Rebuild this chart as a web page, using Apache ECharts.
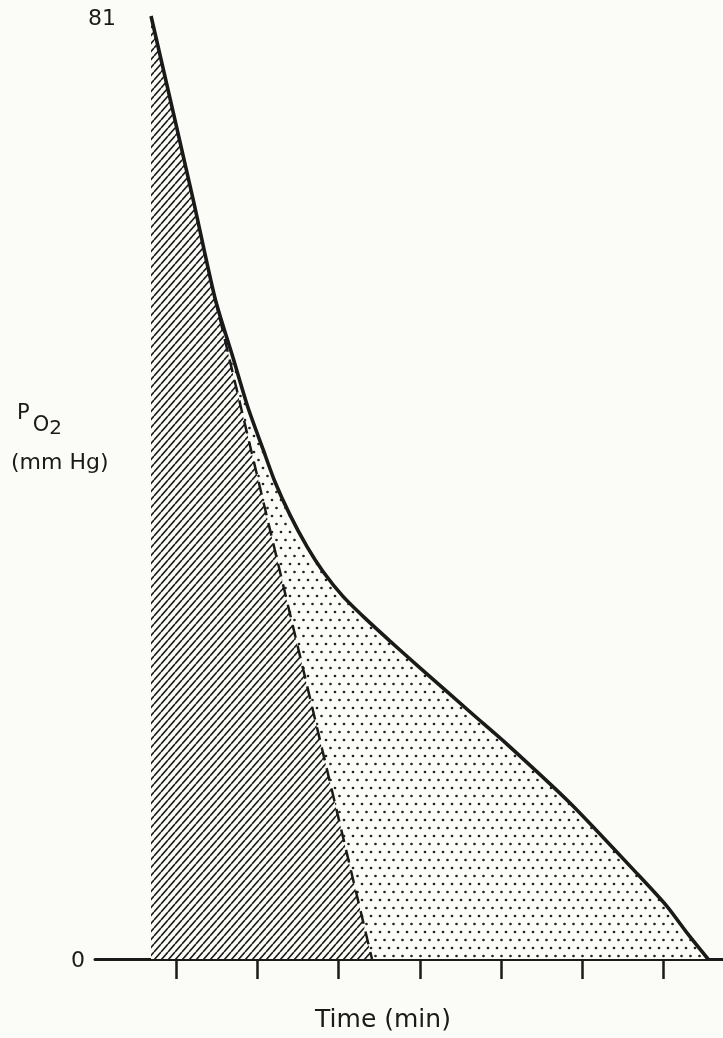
<!DOCTYPE html>
<html>
<head>
<meta charset="utf-8">
<script src="https://cdn.jsdelivr.net/npm/echarts@6/dist/echarts.min.js"></script>
<style>
html,body{margin:0;padding:0;background:#fbfbf7;}
#c{width:723px;height:1038px;}
</style>
</head>
<body>
<div id="c"></div>
<script>
// ---- data ----
const timeMin = [0.690, 1.207, 1.478, 1.700, 1.884, 2.069, 2.217, 2.401, 2.611, 2.808, 3.054, 3.325, 3.633, 4.002, 4.655, 5.049, 5.850, 6.687, 7.044, 7.303, 7.549];
const po2Values = [81.0, 65.30, 56.76, 51.64, 47.37, 43.79, 40.97, 38.15, 35.42, 33.29, 31.15, 29.28, 27.31, 25.01, 21.00, 18.61, 13.40, 7.25, 4.52, 2.13, 0];
const splitCount = 3;               // curve points shared by the hatched region
const dashTime = [1.478, 3.411];
const dashPo2 = [56.76, 0];
const xTickValues = [1, 2, 3, 4, 5, 6, 7];
const yTickValues = [0, 81];
const xAxisName = 'Time (min)';
const yNameLine2 = '(mm Hg)';

const BG = '#fbfbf7';
const INK = '#1a1a1a';

function hatchTile() {
  const c = document.createElement('canvas');
  c.width = 7; c.height = 8;
  const g = c.getContext('2d');
  g.fillStyle = BG; g.fillRect(0, 0, 7, 8);
  g.strokeStyle = INK; g.lineWidth = 1.6;
  g.beginPath();
  for (const k of [-1, 0, 1]) { g.moveTo(k * 7, 8); g.lineTo(k * 7 + 7, 0); }
  g.stroke();
  return c;
}
function dotTile() {
  const c = document.createElement('canvas');
  c.width = 9; c.height = 16;
  const g = c.getContext('2d');
  g.fillStyle = BG; g.fillRect(0, 0, 9, 16);
  g.fillStyle = '#222';
  [[2, 4], [6.5, 12]].forEach(p => { g.beginPath(); g.arc(p[0], p[1], 1.35, 0, Math.PI * 2); g.fill(); });
  return c;
}

const curve = timeMin.map((t, i) => [t, po2Values[i]]);
const hatchData = curve.slice(0, splitCount).concat(dashTime.slice(1).map((t, i) => [t, dashPo2[i + 1]]));
const dashData = dashTime.map((t, i) => [t, dashPo2[i]]);

const chart = echarts.init(document.getElementById('c'), null, {renderer: 'canvas'});
const FONT = 'DejaVu Sans';
const SMOOTH = 0.25;
chart.setOption({
  backgroundColor: BG,
  animation: false,
  title: [{
    text: '{p|P}{o|O}{s|2}',
    left: 8, top: 398,
    textStyle: {
      rich: {
        p: {fontFamily: FONT, fontSize: 21, fontWeight: 'normal', color: INK, verticalAlign: 'top', lineHeight: 20, padding: [0, 0, 0, 4]},
        o: {fontFamily: FONT, fontSize: 21, fontWeight: 'normal', color: INK, verticalAlign: 'top', lineHeight: 20, padding: [12, 0, 0, 3]},
        s: {fontFamily: FONT, fontSize: 20, fontWeight: 'normal', color: INK, verticalAlign: 'top', lineHeight: 20, padding: [16, 0, 0, 0]}
      }
    }
  }, {
    text: yNameLine2,
    left: 6, top: 447,
    textStyle: {fontFamily: FONT, fontSize: 22, fontWeight: 'normal', color: INK}
  }],
  grid: {left: 95, right: 0, top: 16, bottom: 73},
  xAxis: {
    type: 'value', min: 0, max: 7.734, interval: 1,
    axisLine: {show: true, lineStyle: {color: INK, width: 3}},
    axisTick: {show: true, customValues: xTickValues, length: 20, inside: false, lineStyle: {color: INK, width: 2.5}},
    axisLabel: {show: false},
    splitLine: {show: false},
    name: xAxisName, nameLocation: 'middle', nameGap: 49,
    nameTextStyle: {fontFamily: FONT, fontSize: 25, color: INK, padding: [0, 52, 0, 0]}
  },
  yAxis: {
    type: 'value', min: 0, max: 81,
    axisLine: {show: false}, axisTick: {show: false}, splitLine: {show: false},
    axisLabel: {
      customValues: yTickValues, showMaxLabel: true, showMinLabel: true,
      align: 'left', margin: 24,
      formatter: v => v === 81 ? '{a|' + v + '}' : '{b|' + v + '}',
      rich: {
        a: {fontFamily: FONT, fontSize: 22, color: INK, padding: [6, 0, 0, 17]},
        b: {fontFamily: FONT, fontSize: 22, color: INK, padding: [4, 0, 0, 0]}
      }
    }
  },
  series: [
    {type: 'line', data: curve, symbol: 'none', z: 1, silent: true, smooth: SMOOTH,
     lineStyle: {width: 0, opacity: 0},
     areaStyle: {color: {image: dotTile(), repeat: 'repeat'}, opacity: 1}},
    {type: 'line', data: hatchData, symbol: 'none', z: 2, silent: true,
     lineStyle: {width: 0, opacity: 0},
     areaStyle: {color: {image: hatchTile(), repeat: 'repeat'}, opacity: 1}},
    {type: 'line', data: dashData, symbol: 'none', z: 3, silent: true,
     lineStyle: {color: INK, width: 2.5, type: [13, 8]}},
    {type: 'line', data: curve, symbol: 'none', z: 4, silent: true, smooth: SMOOTH,
     lineStyle: {color: INK, width: 3.6}}
  ]
});
</script>
</body>
</html>
